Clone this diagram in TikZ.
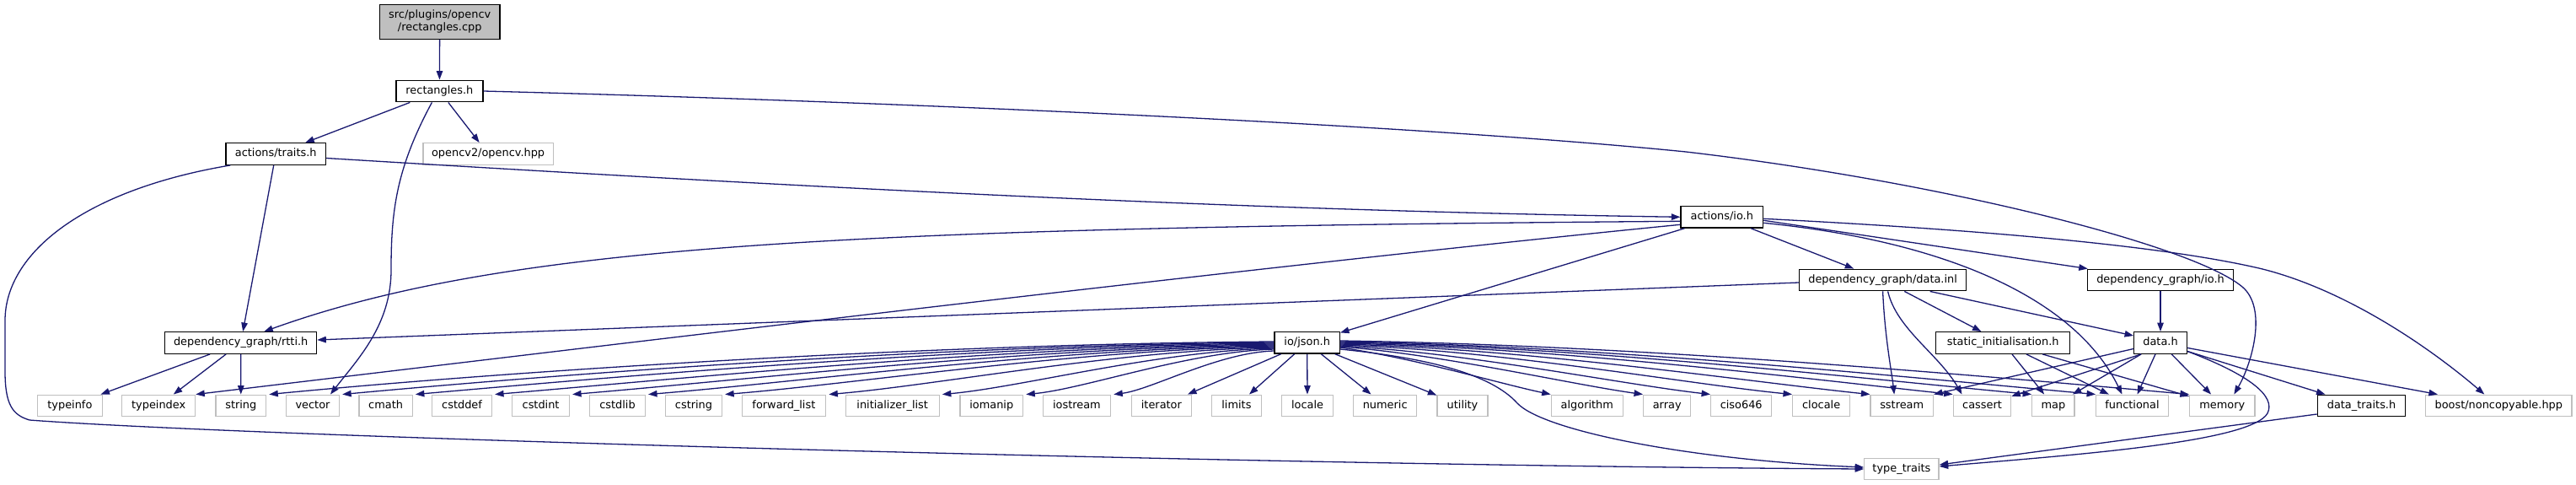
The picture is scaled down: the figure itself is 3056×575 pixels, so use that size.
\documentclass[tikz,border=0pt]{standalone}
\usepackage{fontspec}
\setmainfont{DejaVu Sans}
\usetikzlibrary{arrows.meta,calc}
\definecolor{edgecol}{HTML}{191970}
\definecolor{greyb}{HTML}{BFBFBF}
\begin{document}
\begin{tikzpicture}[x=1pt,y=-1pt,
  every node/.style={font=\fontsize{12.9}{15}\selectfont, inner sep=0pt},
  doc/.style={draw=black, fill=white, line width=1.3pt, minimum height=25.6pt, text height=9.6pt, text depth=3pt},
  ext/.style={draw=greyb, fill=white, line width=1.3pt, minimum height=25.6pt, text height=9.6pt, text depth=3pt},
  rootnode/.style={draw=black, fill=greyb, line width=1.3pt, align=center, minimum height=41pt},
  dep/.style={draw=edgecol, line width=1.3pt, -{Triangle[length=10.5pt,width=7.5pt]}}]
\useasboundingbox (0,0) rectangle (3056,575);

% nodes
\node[rootnode, minimum width=142.8pt] (cpp) at (521.7,25.8) {src/plugins/opencv\\/rectangles.cpp};
\node[doc, minimum width=103pt] (rect) at (521.4,108) {rectangles.h};
\node[doc, minimum width=118.6pt] (traits) at (327.2,182.5) {actions/traits.h};
\node[ext, minimum width=154.4pt] (opencv) at (579.1,182.5) {opencv2/opencv.hpp};
\node[doc, minimum width=97.6pt] (aio) at (2042.8,257.3) {actions/io.h};
\node[doc, minimum width=198.2pt] (datainl) at (2233.6,332) {dependency\_graph/data.inl};
\node[doc, minimum width=173.2pt] (depio) at (2563,332) {dependency\_graph/io.h};
\node[doc, minimum width=180pt] (rtti) at (285.7,406.5) {dependency\_graph/rtti.h};
\node[doc, minimum width=77.2pt] (json) at (1550.7,406.3) {io/json.h};
\node[doc, minimum width=159pt] (statinit) at (2376.2,406.5) {static\_initialisation.h};
\node[doc, minimum width=62.6pt] (datah) at (2563,406.5) {data.h};

\node[ext, minimum width=76.6pt] (typeinfo) at (82.9,481) {typeinfo};
\node[ext, minimum width=86.8pt] (typeindex) at (188.2,481) {typeindex};
\node[ext, minimum width=59.7pt] (string) at (285.8,481) {string};
\node[ext, minimum width=63pt] (vector) at (371,481) {vector};
\node[ext, minimum width=63.2pt] (cmath) at (457.6,481) {cmath};
\node[ext, minimum width=70.6pt] (cstddef) at (548.1,481) {cstddef};
\node[ext, minimum width=67.6pt] (cstdint) at (641.6,481) {cstdint};
\node[ext, minimum width=65.7pt] (cstdlib) at (732.5,481) {cstdlib};
\node[ext, minimum width=67pt] (cstring) at (823,481) {cstring};
\node[ext, minimum width=99.5pt] (fwdlist) at (929.9,481) {forward\_list};
\node[ext, minimum width=111pt] (initlist) at (1058.7,481) {initializer\_list};
\node[ext, minimum width=74.6pt] (iomanip) at (1176.3,481) {iomanip};
\node[ext, minimum width=80.4pt] (iostream) at (1277.4,481) {iostream};
\node[ext, minimum width=70.8pt] (iterator) at (1377.9,481) {iterator};
\node[ext, minimum width=58.7pt] (limits) at (1466.9,481) {limits};
\node[ext, minimum width=61.2pt] (locale) at (1551,481) {locale};
\node[ext, minimum width=75pt] (numeric) at (1643.2,481) {numeric};
\node[ext, minimum width=60pt] (utility) at (1735,481) {utility};
\node[ext, minimum width=85pt] (algorithm) at (1882.8,481) {algorithm};
\node[ext, minimum width=56pt] (array) at (1977.7,481) {array};
\node[ext, minimum width=72pt] (ciso) at (2065.7,481) {ciso646};
\node[ext, minimum width=68pt] (clocale) at (2160.6,481) {clocale};
\node[ext, minimum width=74.3pt] (sstream) at (2256.2,481) {sstream};
\node[ext, minimum width=68.4pt] (cassert) at (2351.5,481) {cassert};
\node[ext, minimum width=50.3pt] (map) at (2435.9,481) {map};
\node[ext, minimum width=85.6pt] (functional) at (2529.5,481) {functional};
\node[ext, minimum width=77.3pt] (memory) at (2636.3,481) {memory};
\node[doc, minimum width=104.4pt] (datatraits) at (2801.5,481) {data\_traits.h};
\node[ext, minimum width=173.3pt] (boost) at (2964.3,481) {boost/noncopyable.hpp};
\node[ext, minimum width=88.3pt] (typetraits) at (2255.9,556) {type\_traits};

% rectangles.cpp / rectangles.h
\draw[dep] (cpp) -- (rect);
\draw[dep] (rect) -- (traits);
\draw[dep] (rect) -- (opencv);
\draw[dep] ([xshift=-9pt]rect.south) .. controls (470,200) and (464,250) .. (464,320) .. controls (464,385) and (425,425) .. ([xshift=21pt]vector.north);
\draw[dep] (rect.east) .. controls (1000,119) and (1650,145) .. (2000,180) .. controls (2300,215) and (2600,290) .. (2660,340) .. controls (2690,365) and (2672,430) .. ([xshift=14pt]memory.north);

% actions/traits.h
\draw[dep] ([yshift=-5pt]traits.east) .. controls (1000,225) and (1500,250) .. (aio.west);
\draw[dep] (traits) -- (rtti);
\draw[dep] ([xshift=6pt]traits.south west) .. controls (100,225) and (6,300) .. (6,380) -- (6,440) .. controls (6,480) and (15,492) .. (35,498) .. controls (300,518) and (1500,552) .. (typetraits.west);

% actions/io.h
\draw[dep] ([yshift=-5pt]aio.west) .. controls (1000,270) and (600,290) .. ([xshift=27.6pt]rtti.north);
\draw[dep] ([yshift=-9pt]aio.west) .. controls (1500,315) and (800,400) .. (typeindex.north east);
\draw[dep] (aio) -- (json);
\draw[dep] (aio) -- (datainl);
\draw[dep] ([yshift=-4pt]aio.east) -- ([xshift=1pt]depio.north west);
\draw[dep] ([yshift=-7pt]aio.east) .. controls (2300,285) and (2460,350) .. ([xshift=-12pt]functional.north);
\draw[dep] ([yshift=-2pt]aio.east) .. controls (2400,275) and (2580,295) .. (2680,318) .. controls (2780,342) and (2880,410) .. ([xshift=-17pt]boost.north);

% dependency_graph/data.inl
\draw[dep] ([yshift=-3pt]datainl.west) -- ([yshift=3.5pt]rtti.east);
\draw[dep] (datainl) -- (statinit);
\draw[dep] ([xshift=56pt]datainl.south) -- ([yshift=8.5pt]datah.west);
\draw[dep] (datainl.south) .. controls (2236,400) and (2244,440) .. ([xshift=-9pt]sstream.north);
\draw[dep] ([xshift=6pt]datainl.south) .. controls (2250,390) and (2300,420) .. ([xshift=-24pt]cassert.north);

% dependency_graph/io.h
\draw[dep] (depio) -- (datah);

% static_initialisation.h
\draw[dep] (statinit) -- (map);
\draw[dep] (statinit) -- (functional);
\draw[dep] (statinit) -- (memory);

% data.h
\draw[dep] ([yshift=-7pt]datah.west) -- (sstream.north east);
\draw[dep] ([xshift=-23pt]datah.south) -- (cassert);
\draw[dep] (datah) -- (map);
\draw[dep] (datah) -- (functional);
\draw[dep] (datah) -- (memory);
\draw[dep] (datah) -- (datatraits);
\draw[dep] (datah) -- (boost);
\draw[dep] ([yshift=-10pt]datah.east) .. controls (2670,445) and (2700,470) .. (2690,490) .. controls (2670,525) and (2450,540) .. ([yshift=3pt]typetraits.east);

% data_traits.h
\draw[dep] ([yshift=-10pt]datatraits.west) -- ([yshift=5pt]typetraits.east);

% dependency_graph/rtti.h
\draw[dep] (rtti) -- (typeinfo);
\draw[dep] (rtti) -- (typeindex);
\draw[dep] (rtti) -- (string);

% io/json.h, left fan
\draw[dep] ([yshift=1.3pt]json.west) .. controls (1095,408) and (605,440) .. ([xshift=3pt]string.north east);
\draw[dep] ([yshift=0.3pt]json.west) .. controls (1125,409) and (671,443) .. ([xshift=3pt]vector.north east);
\draw[dep] ([yshift=-0.7pt]json.west) .. controls (1155,410) and (737,446) .. ([xshift=3pt]cmath.north east);
\draw[dep] ([yshift=-1.7pt]json.west) .. controls (1188,411) and (808,449) .. ([xshift=3pt]cstddef.north east);
\draw[dep] ([yshift=-2.7pt]json.west) .. controls (1220,412) and (878,451) .. ([xshift=3pt]cstdint.north east);
\draw[dep] ([yshift=-3.7pt]json.west) .. controls (1252,413) and (947,453) .. ([xshift=3pt]cstdlib.north east);
\draw[dep] ([yshift=-4.7pt]json.west) .. controls (1283,414) and (1016,455) .. ([xshift=3pt]cstring.north east);
\draw[dep] ([yshift=-5.7pt]json.west) .. controls (1327,415) and (1110,457) .. ([xshift=3pt]fwdlist.north east);
\draw[dep] ([yshift=-6.7pt]json.west) .. controls (1374,416) and (1212,459) .. ([xshift=3pt]initlist.north east);
\draw[dep] ([yshift=-7.7pt]json.west) .. controls (1409,417) and (1287,461) .. ([xshift=3pt]iomanip.north east);
\draw[dep] ([yshift=-9.7pt]json.west) .. controls (1445,418) and (1366,462) .. ([xshift=3pt]iostream.north east);
% io/json.h, below
\draw[dep] (json) -- (iterator);
\draw[dep] (json) -- (limits);
\draw[dep] (json) -- (locale);
\draw[dep] (json) -- (numeric);
\draw[dep] (json) -- (utility);
% io/json.h, right fan
\draw[dep] ([yshift=-5.7pt]json.east) .. controls (1680,425) and (1780,455) .. (algorithm.north west);
\draw[dep] ([yshift=-4.7pt]json.east) .. controls (1710,420) and (1860,455) .. (array.north west);
\draw[dep] ([yshift=-3.7pt]json.east) .. controls (1740,418) and (1920,455) .. (ciso.north west);
\draw[dep] ([yshift=-2.7pt]json.east) .. controls (1780,415) and (2000,455) .. (clocale.north west);
\draw[dep] ([yshift=-1.7pt]json.east) .. controls (1810,413) and (2070,452) .. (sstream.north west);
\draw[dep] ([yshift=-0.7pt]json.east) .. controls (1850,412) and (2150,450) .. (cassert.north west);
\draw[dep] ([yshift=0.3pt]json.east) .. controls (1880,411) and (2200,448) .. (map.north west);
\draw[dep] ([yshift=1.3pt]json.east) .. controls (1900,410) and (2260,447) .. (functional.north west);
\draw[dep] ([yshift=2.3pt]json.east) .. controls (1940,409) and (2345,445) .. (memory.north west);
\draw[dep] ([yshift=-7.7pt]json.east) .. controls (1700,425) and (1770,445) .. (1800,478) .. controls (1830,510) and (2000,545) .. ([yshift=2pt]typetraits.west);
\end{tikzpicture}
\end{document}
